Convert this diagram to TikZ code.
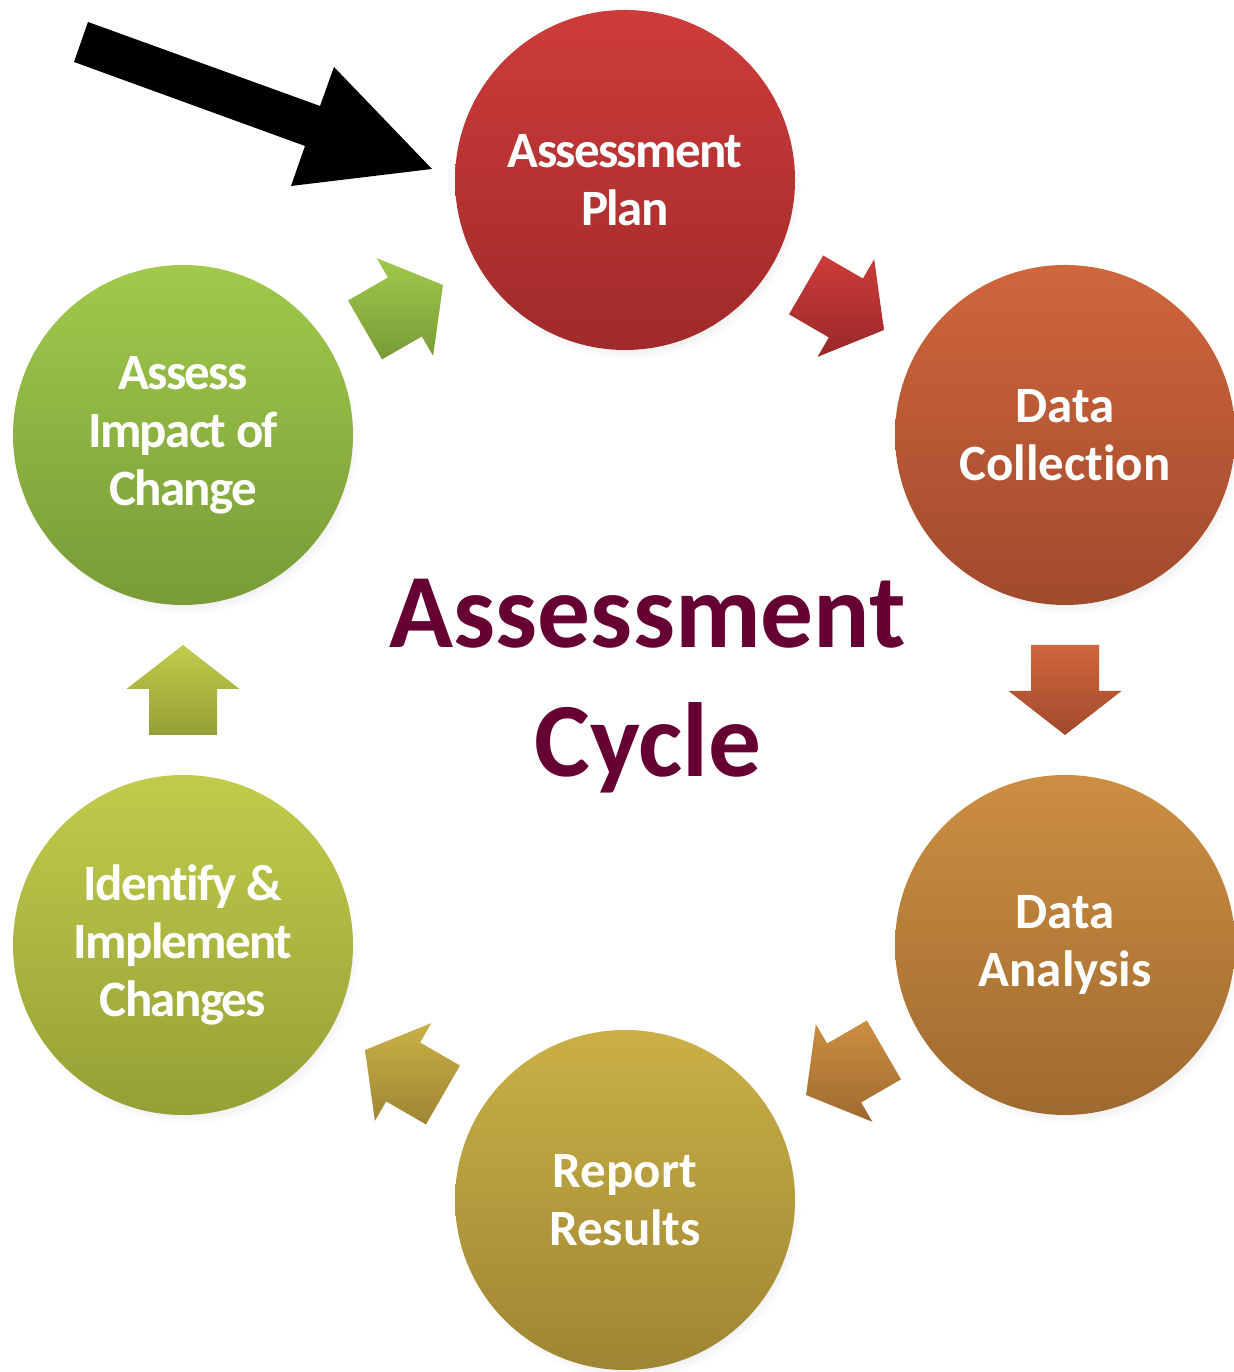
\documentclass[tikz,border=0pt]{standalone}
\usepackage{fontspec}
\setmainfont{Carlito}[Ligatures=NoCommon]
\newfontfamily\condfont{Carlito}[LetterSpace=-3.3, Ligatures=NoCommon]
\usetikzlibrary{positioning}
\usetikzlibrary{shadows}

\definecolor{planA}{HTML}{CD3C3A}
\definecolor{planB}{HTML}{A02A2A}
\definecolor{collA}{HTML}{D0663C}
\definecolor{collB}{HTML}{A04A2C}
\definecolor{analA}{HTML}{CC8E42}
\definecolor{analB}{HTML}{9F6A2F}
\definecolor{repA}{HTML}{CAB046}
\definecolor{repB}{HTML}{9E8532}
\definecolor{implA}{HTML}{C1CB4B}
\definecolor{implB}{HTML}{95A035}
\definecolor{impaA}{HTML}{A1C94B}
\definecolor{impaB}{HTML}{789B37}
\definecolor{titlecol}{HTML}{660033}

\tikzset{
  stage/.style 2 args={circle, minimum size=3.4cm, inner sep=0pt,
    top color=#1, bottom color=#2, text=white, align=center,
    font=\bfseries\fontsize{14.5}{16.5}\selectfont,
    circular drop shadow={shadow xshift=0.4mm, shadow yshift=-0.8mm, shadow scale=1.01, opacity=0.25}},
  pics/stagearrow/.style 2 args={code={
    \shade[top color=#1, bottom color=#2]
      (-0.45,-0.34) -- (0.01,-0.34) -- (0.01,-0.565) -- (0.45,0)
      -- (0.01,0.565) -- (0.01,0.34) -- (-0.45,0.34) -- cycle;}},
}

\begin{document}
\begin{tikzpicture}
  \useasboundingbox (0,0) rectangle (12.33,13.72);

  % stages of the cycle
  \node[stage={planA}{planB}] (plan) at (6.25,11.92) {\condfont Assessment\\\condfont Plan};
  \node[stage={collA}{collB}] (collection) at (10.65,9.37) {Data\\Collection};
  \node[stage={analA}{analB}] (analysis) at (10.65,4.27) {Data\\Analysis};
  \node[stage={repA}{repB}] (report) at (6.25,1.72) {Report\\Results};
  \node[stage={implA}{implB}] (implement) at (1.83,4.27) {\condfont Identify \&\\\condfont Implement\\\condfont Changes};
  \node[stage={impaA}{impaB}] (impact) at (1.83,9.37) {\condfont Assess\\\condfont Impact of\\\condfont Change};

  % block arrows between stages
  \path (plan) -- (collection) pic[pos=0.5, sloped, allow upside down] {stagearrow={planA}{planB!95!black}};
  \path (collection) -- (analysis) pic[pos=0.5, sloped, allow upside down] {stagearrow={collA}{collB}};
  \path (analysis) -- (report) pic[pos=0.5, sloped, allow upside down] {stagearrow={analA}{analB}};
  \path (report) -- (implement) pic[pos=0.5, sloped, allow upside down] {stagearrow={repA}{repB}};
  \path (implement) -- (impact) pic[pos=0.5, sloped, allow upside down] {stagearrow={implA}{implB}};
  \path (impact) -- (plan) pic[pos=0.5, sloped, allow upside down] {stagearrow={impaA}{impaB}};

  \node[text=titlecol, align=center, font=\bfseries\fontsize{30}{36.5}\selectfont] (title) at (6.48,6.86) {Assessment\\Cycle};

  % start marker
  \coordinate (start) at (4.32,12.03);
  \fill[black] (0.88,13.50) -- (3.20,12.66) -- (3.34,13.05) -- (start)
    -- (2.91,11.86) -- (3.05,12.26) -- (0.74,13.10) -- cycle;
\end{tikzpicture}
\end{document}
